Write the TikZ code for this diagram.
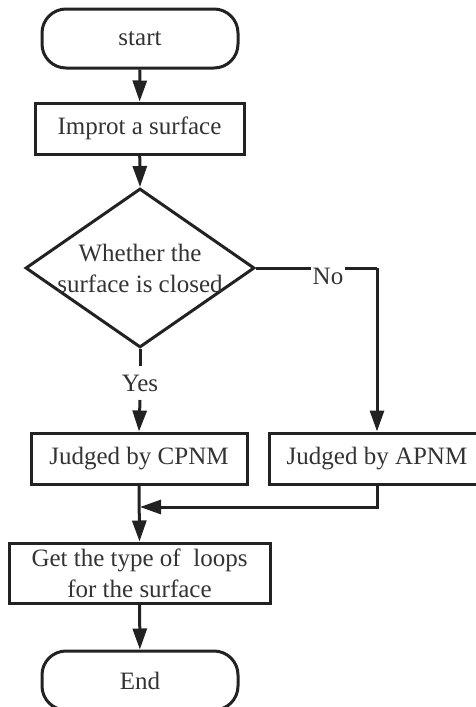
\documentclass[tikz,border=0pt]{standalone}
\usepackage{fontspec}
\setmainfont{Liberation Serif}
\usetikzlibrary{arrows.meta,shapes.geometric}
\definecolor{ink}{HTML}{222222}
\definecolor{txt}{HTML}{333333}
\begin{document}
\begin{tikzpicture}[x=1pt,y=1pt,
  every node/.style={font=\fontsize{25}{31}\selectfont, text=txt},
  terminal/.style={draw=ink, line width=3pt, rounded corners=24pt,
    minimum width=196pt, minimum height=59pt, inner sep=0pt},
  procbox/.style={draw=ink, line width=3pt, minimum height=51pt, inner sep=0pt, align=center},
  decision/.style={draw=ink, line width=3pt, diamond, minimum width=229pt,
    minimum height=159pt, inner sep=0pt},
  flow/.style={draw=ink, line width=3pt, -{Triangle[length=21pt,width=14pt]}},
  link/.style={draw=ink, line width=3pt}
]
\useasboundingbox (0,0) rectangle (476,-707);
\clip (0,0) rectangle (476,-707);

% main column
\node[terminal] (start) at (140,-38.5) {start};
\node[procbox, minimum width=209pt] (improt) at (139.5,-128.5) {Improt a surface};
\node[decision] (dia) at (140,-268) {};
\node[align=center, inner sep=0pt] (diatext) at (140,-268) {Whether the\\surface is closed};
\node[inner sep=1pt] (yes) at (140,-383) {Yes};
\node[inner sep=2pt] (no) at (328,-276) {No};
\node[procbox, minimum width=216pt] (cpnm) at (139,-458.5) {Judged by CPNM};
\node[procbox, minimum width=216pt] (apnm) at (377,-458.5) {Judged by APNM};
\node[procbox, minimum width=261pt, minimum height=60pt] (get) at (139.5,-573)
  {Get the type of\ \ loops\\for the surface};
\node[terminal] (end) at (140,-680.5) {End};

% helper points for the branches
\coordinate (nocorner) at (377,-268);
\coordinate (joinright) at (377,-507);
\coordinate (joinleft) at (140,-507);
\coordinate (yestop) at (140,-366);
\coordinate (yesbot) at (140,-400);

% connectors
\draw[flow] (start) -- (improt);
\draw[flow] (improt) -- (dia.north);
\draw[link] (dia.south) -- (yestop);
\draw[flow] (yesbot) -- (cpnm.north);
\draw[link] (dia.east) -- (no.west |- dia.east);
\draw[link] (no.east |- dia.east) -- (nocorner);
\draw[flow] (nocorner) -- (apnm.north);
\draw[flow] (cpnm.south) -- (get.north);
\draw[flow] (apnm.south) -- (joinright) -- (joinleft);
\draw[flow] (get) -- (end);
\end{tikzpicture}
\end{document}
